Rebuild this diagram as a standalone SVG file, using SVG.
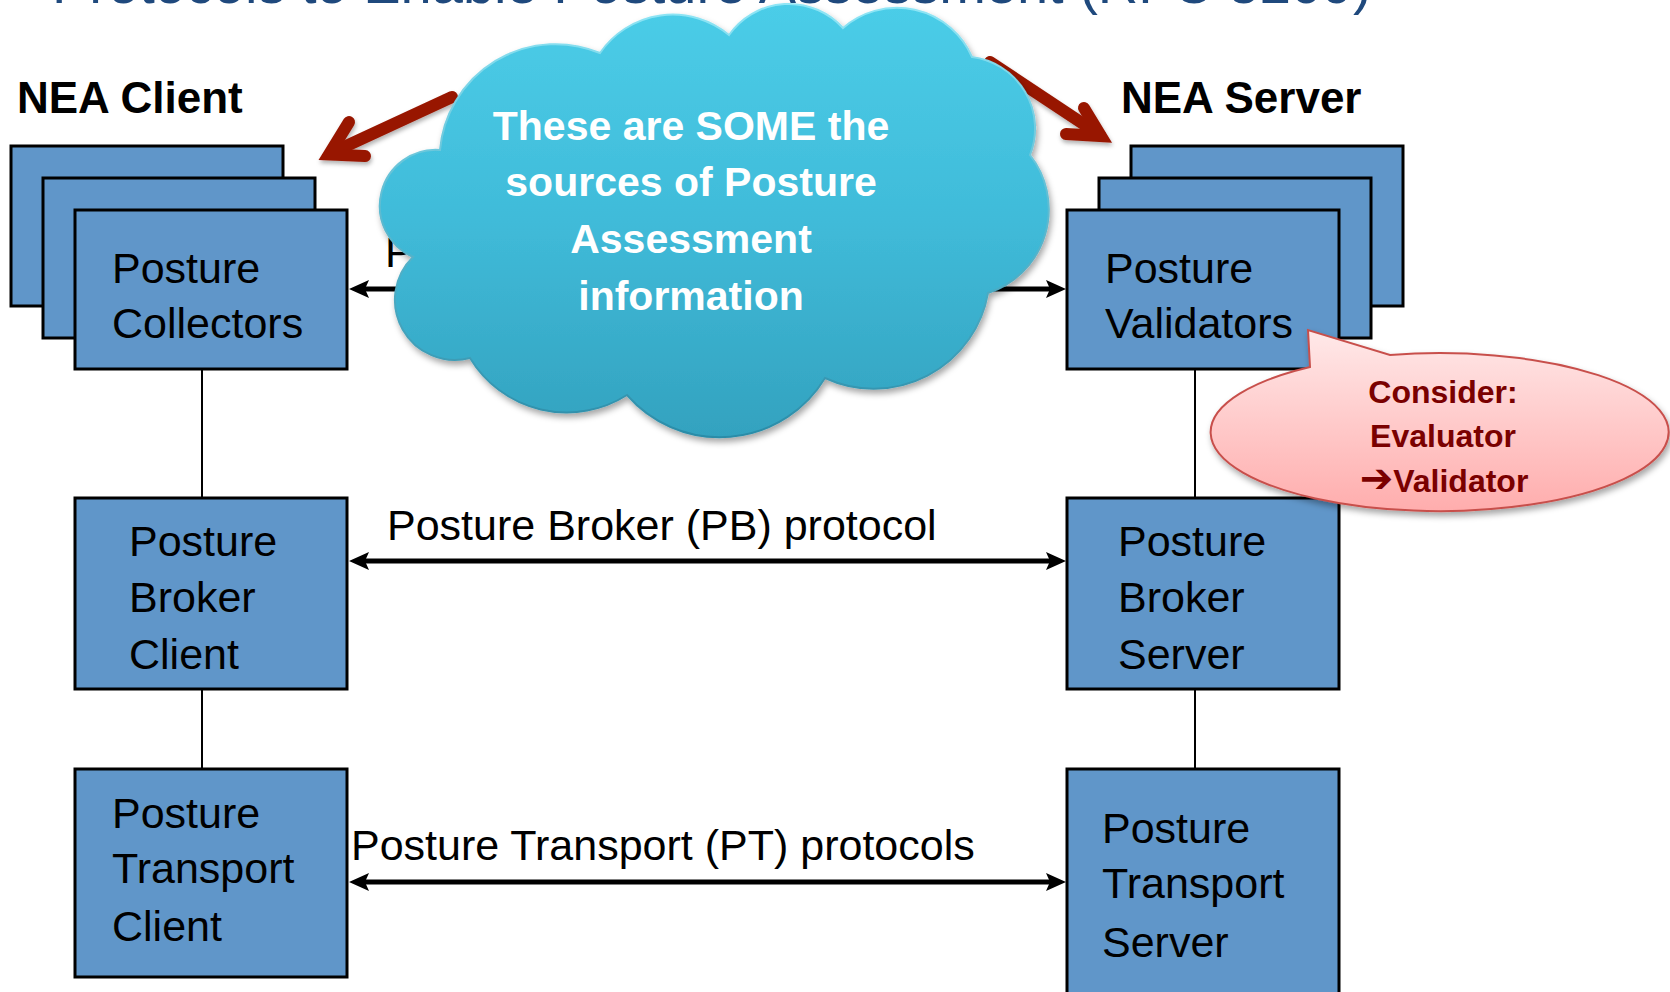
<svg xmlns="http://www.w3.org/2000/svg" width="1670" height="992" viewBox="0 0 1670 992">
  <style>
    .box { fill: #6096C9; stroke: #000; stroke-width: 3; }
    .bt { font-family: "Liberation Sans", Arial, sans-serif; font-size: 43px; fill: #000; }
    .hd { font-family: "Liberation Sans", Arial, sans-serif; font-size: 44px; font-weight: bold; fill: #000; }
    .lbl { font-family: "Liberation Sans", Arial, sans-serif; font-size: 43px; fill: #000; }
    .vline { stroke: #000; stroke-width: 2; fill: none; }
    .arr { stroke: #000; stroke-width: 5; fill: none; }
    .red { stroke: #981705; stroke-width: 12; fill: none; stroke-linecap: round; stroke-linejoin: miter; }
    .ct { font-family: "Liberation Sans", Arial, sans-serif; font-size: 41px; font-weight: bold; fill: #fff; text-anchor: middle; }
    .kt { font-family: "Liberation Sans", "DejaVu Sans", sans-serif; font-size: 32px; font-weight: bold; fill: #7A0000; text-anchor: middle; }
  </style>
  <defs>
    <marker id="ah" viewBox="0 0 20 18" refX="7" refY="9" markerWidth="20" markerHeight="18" markerUnits="userSpaceOnUse" orient="auto-start-reverse">
      <path d="M0,0 L20,9 L0,18 L4,9 Z" fill="#000"/>
    </marker>
    <linearGradient id="cloudFill" x1="0" y1="0" x2="0" y2="1">
      <stop offset="0" stop-color="#4BCDE8"/>
      <stop offset="0.5" stop-color="#40BBD9"/>
      <stop offset="1" stop-color="#33A2BF"/>
    </linearGradient>
    <linearGradient id="cloudStroke" x1="0" y1="0" x2="0" y2="1">
      <stop offset="0" stop-color="#8FE6F6"/>
      <stop offset="1" stop-color="#2A8CA8"/>
    </linearGradient>
    <linearGradient id="calloutFill" x1="0" y1="0" x2="0" y2="1">
      <stop offset="0" stop-color="#FFE9E9"/>
      <stop offset="1" stop-color="#FFADAD"/>
    </linearGradient>
    <filter id="shadow" x="-10%" y="-10%" width="125%" height="130%">
      <feDropShadow dx="2" dy="4" stdDeviation="3" flood-color="#000" flood-opacity="0.35"/>
    </filter>
    <filter id="shadowSm" x="-10%" y="-20%" width="125%" height="150%">
      <feDropShadow dx="1" dy="3" stdDeviation="2" flood-color="#000" flood-opacity="0.3"/>
    </filter>
  </defs>

  <rect width="1670" height="992" fill="#fff"/>

  <g id="title">
    <text x="52" y="3" font-family="Liberation Sans, Arial, sans-serif" font-size="56" fill="#1F497D">Protocols to Enable Posture Assessment (RFC 5209)</text>
  </g>

  <g id="nea-client-label"><text class="hd" x="17" y="113">NEA Client</text></g>
  <g id="nea-server-label"><text class="hd" x="1121" y="113">NEA Server</text></g>

  <g id="posture-collectors">
    <rect class="box" x="11" y="146" width="272" height="160"/>
    <rect class="box" x="43" y="178" width="272" height="160"/>
    <rect class="box" x="75" y="210" width="272" height="159"/>
    <text class="bt" x="112" y="283">Posture</text>
    <text class="bt" x="112" y="338">Collectors</text>
  </g>

  <g id="posture-validators">
    <rect class="box" x="1131" y="146" width="272" height="160"/>
    <rect class="box" x="1099" y="178" width="272" height="160"/>
    <rect class="box" x="1067" y="210" width="272" height="159"/>
    <text class="bt" x="1105" y="283">Posture</text>
    <text class="bt" x="1105" y="338">Validators</text>
  </g>

  <g id="pb-client">
    <rect class="box" x="75" y="498" width="272" height="191"/>
    <text class="bt" x="129" y="556">Posture</text>
    <text class="bt" x="129" y="612">Broker</text>
    <text class="bt" x="129" y="669">Client</text>
  </g>

  <g id="pb-server">
    <rect class="box" x="1067" y="498" width="272" height="191"/>
    <text class="bt" x="1118" y="556">Posture</text>
    <text class="bt" x="1118" y="612">Broker</text>
    <text class="bt" x="1118" y="669">Server</text>
  </g>

  <g id="pt-client">
    <rect class="box" x="75" y="769" width="272" height="208"/>
    <text class="bt" x="112" y="828">Posture</text>
    <text class="bt" x="112" y="883">Transport</text>
    <text class="bt" x="112" y="941">Client</text>
  </g>

  <g id="pt-server">
    <rect class="box" x="1067" y="769" width="272" height="240"/>
    <text class="bt" x="1102" y="843">Posture</text>
    <text class="bt" x="1102" y="898">Transport</text>
    <text class="bt" x="1102" y="957">Server</text>
  </g>

  <g id="connectors">
    <line class="vline" x1="202" y1="370" x2="202" y2="497"/>
    <line class="vline" x1="202" y1="690" x2="202" y2="768"/>
    <line class="vline" x1="1195" y1="370" x2="1195" y2="497"/>
    <line class="vline" x1="1195" y1="690" x2="1195" y2="768"/>
    <line class="arr" x1="362" y1="289" x2="1053" y2="289" marker-start="url(#ah)" marker-end="url(#ah)"/>
    <line class="arr" x1="362" y1="561" x2="1053" y2="561" marker-start="url(#ah)" marker-end="url(#ah)"/>
    <line class="arr" x1="362" y1="882" x2="1053" y2="882" marker-start="url(#ah)" marker-end="url(#ah)"/>
    <text class="lbl" x="385" y="267">P</text>
    <text class="lbl" x="387" y="540">Posture Broker (PB) protocol</text>
    <text class="lbl" x="351" y="860">Posture Transport (PT) protocols</text>
  </g>

  <g id="red-arrows" filter="url(#shadowSm)">
    <path class="red" d="M452,97 L331,153"/>
    <path class="red" d="M349,122 L329,154.5 L365,156"/>
    <path class="red" d="M990,62 L1100,135"/>
    <path class="red" d="M1084,108 L1101,136 L1066,134"/>
  </g>

  <g id="cloud">
    <path filter="url(#shadow)" fill="url(#cloudFill)" stroke="url(#cloudStroke)" stroke-width="2"
      d="M440,150 A116,116 0 0 1 600,53 A88,88 0 0 1 729,35 A73,73 0 0 1 843,28 A82,82 0 0 1 972,57 A72,72 0 0 1 1030,155 A88,88 0 0 1 988,293 A116,116 0 0 1 825,378 A123,123 0 0 1 627,395 A113,113 0 0 1 470,358 A60,60 0 0 1 413,257 A56,56 0 0 1 440,150 Z"/>
    <text class="ct" x="691" y="140">These are SOME the</text>
    <text class="ct" x="691" y="196">sources of Posture</text>
    <text class="ct" x="691" y="253">Assessment</text>
    <text class="ct" x="691" y="310">information</text>
  </g>

  <g id="callout">
    <path filter="url(#shadow)" fill="url(#calloutFill)" stroke="#C8504C" stroke-width="2"
      d="M1310,367 L1308,330 L1390,355 A229,79 0 1 1 1310,367 Z"/>
    <text class="kt" x="1443" y="403">Consider:</text>
    <text class="kt" x="1443" y="447">Evaluator</text>
    <text class="kt" x="1444" y="492"><tspan font-size="40" font-family="DejaVu Sans, sans-serif">➔</tspan>Validator</text>
  </g>
</svg>
